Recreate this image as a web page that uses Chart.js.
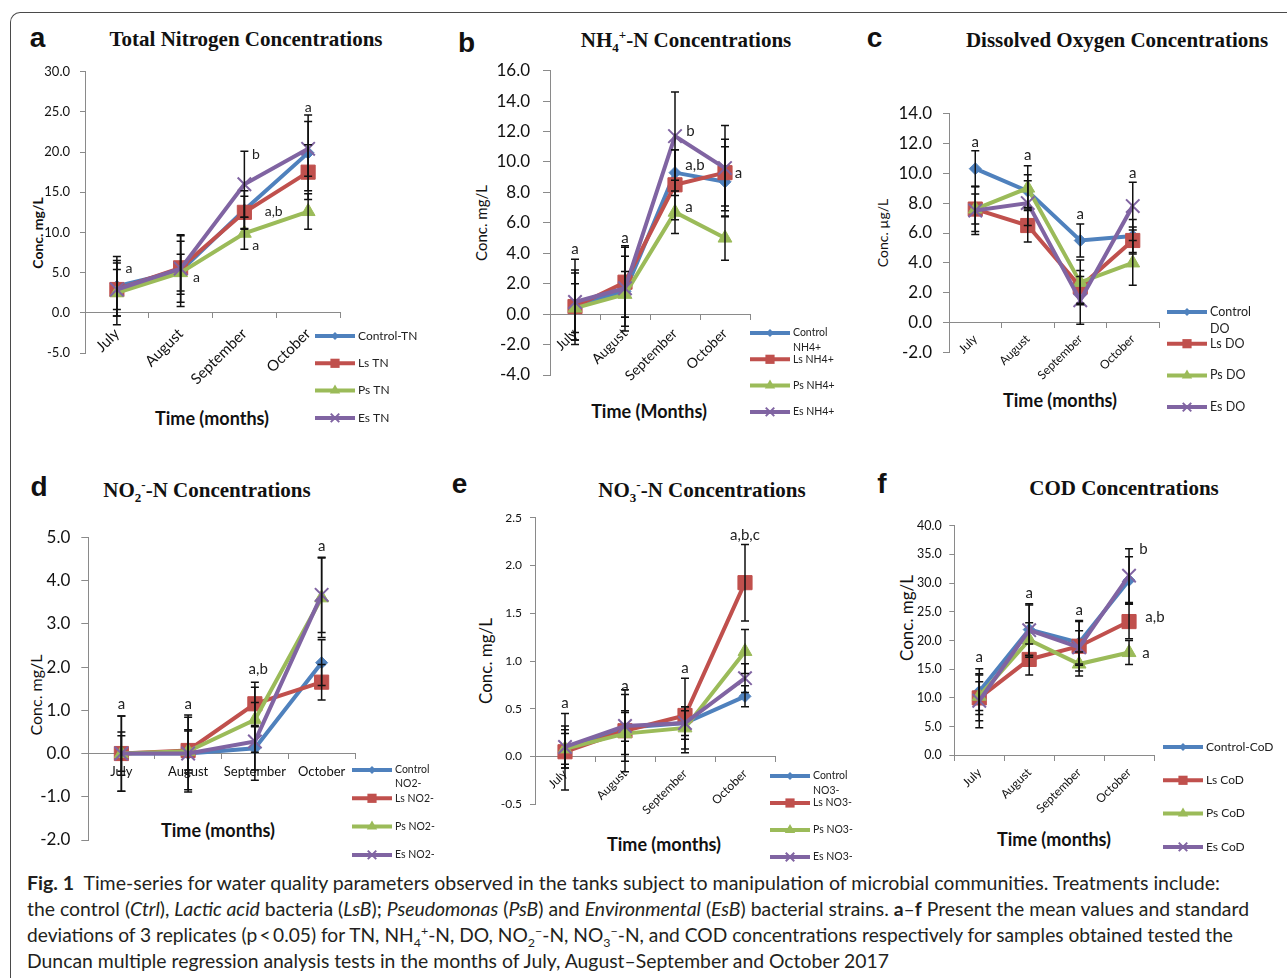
<!DOCTYPE html>
<html>
<head>
<meta charset="utf-8">
<title>Fig. 1 water quality time-series</title>
<script src="https://cdn.jsdelivr.net/npm/chart.js@4.4.1/dist/chart.umd.min.js"></script>
<style>
  html, body { margin: 0; padding: 0; background: #fff; }
  #fig { position: relative; width: 1287px; height: 978px; overflow: hidden; font-family: Lato, sans-serif; color: #111; }
  #frame { position: absolute; left: 10px; top: 12px; width: 1300px; height: 1000px; border-left: 1px solid #4a4a4a; border-top: 1px solid #4a4a4a; border-top-left-radius: 10px; }
  canvas { position: absolute; }
  .t { position: absolute; transform: translate(-50%, -50%); white-space: nowrap; line-height: 1; }
  .ttl { font: bold 21px "Liberation Serif", "Times New Roman", serif; }
  .ttl sub, .ttl sup { font-size: 0.62em; line-height: 0; }
  .tag { font: bold 28px "Liberation Sans", Arial, sans-serif; }
  .xt { font: bold 18px Lato, sans-serif; }
  .yt { font-family: Lato, sans-serif; transform: translate(-50%, -50%) rotate(-90deg); }
  .cap { position: absolute; left: 27px; white-space: nowrap; line-height: 1; font-size: 18.5px; color: #231f20; transform-origin: 0 50%; }
  .cap sub, .cap sup { font-size: 0.65em; line-height: 0; }
</style>
</head>
<body>
<div id="fig">
  <div id="frame"></div>

  <div class="t tag" style="left:37.5px;top:38px">a</div>
  <div class="t ttl" style="left:246px;top:39px">Total Nitrogen Concentrations</div>
  <div class="t xt" style="left:212px;top:418px">Time (months)</div>
  <div class="t yt" style="left:37.5px;top:233px;font-size:14px;font-weight:bold">Conc. mg/L</div>

  <div class="t tag" style="left:466.5px;top:42.5px">b</div>
  <div class="t ttl" style="left:686px;top:40px">NH<sub>4</sub><sup>+</sup>-N Concentrations</div>
  <div class="t xt" style="left:649px;top:411px">Time (Months)</div>
  <div class="t yt" style="left:481px;top:222.5px;font-size:15px">Conc. mg/L</div>

  <div class="t tag" style="left:874.5px;top:38px">c</div>
  <div class="t ttl" style="left:1117px;top:40px">Dissolved Oxygen Concentrations</div>
  <div class="t xt" style="left:1060px;top:400px">Time (months)</div>
  <div class="t yt" style="left:882.5px;top:233px;font-size:14px">Conc. µg/L</div>

  <div class="t tag" style="left:39px;top:487px">d</div>
  <div class="t ttl" style="left:207px;top:490px">NO<sub>2</sub><sup>-</sup>-N Concentrations</div>
  <div class="t xt" style="left:218px;top:830px">Time (months)</div>
  <div class="t yt" style="left:35.5px;top:695px;font-size:16px">Conc. mg/L</div>

  <div class="t tag" style="left:459.5px;top:484px">e</div>
  <div class="t ttl" style="left:702px;top:490px">NO<sub>3</sub><sup>-</sup>-N Concentrations</div>
  <div class="t xt" style="left:664px;top:844px">Time (months)</div>
  <div class="t yt" style="left:485px;top:661px;font-size:17px">Conc. mg/L</div>

  <div class="t tag" style="left:882px;top:484px">f</div>
  <div class="t ttl" style="left:1124px;top:488px">COD Concentrations</div>
  <div class="t xt" style="left:1054px;top:839px">Time (months)</div>
  <div class="t yt" style="left:905.5px;top:617.5px;font-size:17px">Conc. mg/L</div>

  <div class="cap" data-w="1193" style="top:873.5px"><b>Fig. 1</b>&nbsp; Time-series for water quality parameters observed in the tanks subject to manipulation of microbial communities. Treatments include:</div>
  <div class="cap" data-w="1222" style="top:899.5px">the control (<i>Ctrl</i>), <i>Lactic acid</i> bacteria (<i>LsB</i>); <i>Pseudomonas</i> (<i>PsB</i>) and <i>Environmental</i> (<i>EsB</i>) bacterial strains. <b>a</b>–<b>f</b> Present the mean values and standard</div>
  <div class="cap" data-w="1206" style="top:925.5px">deviations of 3 replicates (p&thinsp;&lt;&thinsp;0.05) for TN, NH<sub>4</sub><sup>+</sup>-N, DO, NO<sub>2</sub><sup>−</sup>-N, NO<sub>3</sub><sup>−</sup>-N, and COD concentrations respectively for samples obtained tested the</div>
  <div class="cap" data-w="862" style="top:951.5px">Duncan multiple regression analysis tests in the months of July, August–September and October 2017</div>
</div>

<script>
const months = ["July", "August", "September", "October"];

// a: total nitrogen (mg/L)
const tnCtrl = [3.3, 5.2, 12.8, 19.9];
const tnLs = [2.9, 5.6, 12.5, 17.5];
const tnPs = [2.5, 5.0, 9.9, 12.6];
const tnEs = [2.9, 5.5, 16.0, 20.4];
const tnCtrlSd = [3.7, 4.4, 2.4, 4.7];
const tnLsSd = [3.3, 3.3, 2.0, 3.4];
const tnPsSd = [4.0, 2.3, 2.0, 2.2];
const tnEsSd = [2.5, 4.2, 4.1, 3.4];
const tnNames = ["Control-TN", "Ls TN", "Ps TN", "Es TN"];
const tnAxis = [-5, 30, 5];
const tnMarks = [[0.19, 5.5, "a"], [1.25, 4.35, "a"], [2.18, 19.7, "b"], [2.46, 12.6, "a,b"], [2.18, 8.4, "a"], [3.0, 25.6, "a"]];

// b: NH4+-N (mg/L)
const nhCtrl = [0.6, 1.5, 9.3, 8.7];
const nhLs = [0.5, 2.1, 8.5, 9.3];
const nhPs = [0.4, 1.3, 6.7, 5.0];
const nhEs = [0.8, 1.7, 11.7, 9.6];
const nhCtrlSd = [2.3, 2.3, 1.5, 2.3];
const nhLsSd = [2.2, 2.3, 2.3, 2.2];
const nhPsSd = [1.6, 1.5, 1.4, 1.45];
const nhEsSd = [2.8, 2.8, 2.9, 2.8];
const nhNames = ["Control NH4+", "Ls NH4+", "Ps NH4+", "Es NH4+"];
const nhAxis = [-4, 16, 2];
const nhMarks = [[0, 4.25, "a"], [1, 5.0, "a"], [2.31, 12.0, "b"], [2.4, 9.8, "a,b"], [2.28, 7.0, "a"], [3.27, 9.25, "a"]];

// c: dissolved oxygen (ug/L)
const doCtrl = [10.3, 8.8, 5.5, 5.8];
const doLs = [7.6, 6.5, 2.4, 5.5];
const doPs = [7.6, 9.0, 2.7, 4.0];
const doEs = [7.5, 8.0, 1.5, 7.8];
const doCtrlSd = [1.2, 1.1, 1.1, 1.1];
const doLsSd = [1.5, 1.1, 1.1, 0.9];
const doPsSd = [1.0, 1.5, 1.5, 1.5];
const doEsSd = [1.6, 1.5, 1.6, 1.6];
const doNames = ["Control DO", "Ls DO", "Ps DO", "Es DO"];
const doAxis = [-2, 14, 2];
const doMarks = [[0, 12.1, "a"], [1, 11.2, "a"], [2, 7.26, "a"], [3, 10.0, "a"]];

// d: NO2--N (mg/L)
const no2Ctrl = [0.0, 0.0, 0.12, 2.1];
const no2Ls = [0.0, 0.07, 1.15, 1.65];
const no2Ps = [0.0, 0.05, 0.78, 3.6];
const no2Es = [0.0, 0.0, 0.28, 3.67];
const no2CtrlSd = [0.87, 0.89, 0.5, 0.53];
const no2LsSd = [0.5, 0.45, 0.5, 0.41];
const no2PsSd = [0.41, 0.5, 0.75, 0.92];
const no2EsSd = [0.87, 0.84, 0.9, 0.87];
const no2Names = ["Control NO2-", "Ls NO2-", "Ps NO2-", "Es NO2-"];
const no2Axis = [-2, 5, 1];
const no2Marks = [[0, 1.13, "a"], [1, 1.13, "a"], [2.05, 1.95, "a,b"], [3, 4.79, "a"]];

// e: NO3--N (mg/L)
const no3Ctrl = [0.08, 0.3, 0.35, 0.63];
const no3Ls = [0.05, 0.27, 0.43, 1.82];
const no3Ps = [0.08, 0.24, 0.3, 1.1];
const no3Es = [0.1, 0.32, 0.35, 0.82];
const no3CtrlSd = [0.2, 0.35, 0.17, 0.11];
const no3LsSd = [0.4, 0.43, 0.39, 0.4];
const no3PsSd = [0.16, 0.22, 0.22, 0.23];
const no3EsSd = [0.22, 0.16, 0.13, 0.15];
const no3Names = ["Control NO3-", "Ls NO3-", "Ps NO3-", "Es NO3-"];
const no3Axis = [-0.5, 2.5, 0.5];
const no3Marks = [[0, 0.56, "a"], [1, 0.74, "a"], [2, 0.92, "a"], [3, 2.32, "a,b,c"]];

// f: COD (mg/L)
const codCtrl = [11.1, 21.9, 19.6, 30.5];
const codLs = [10.0, 16.7, 19.0, 23.3];
const codPs = [10.3, 20.1, 15.9, 17.9];
const codEs = [9.5, 21.8, 18.8, 31.3];
const codCtrlSd = [4.0, 4.5, 3.9, 4.1];
const codLsSd = [4.0, 2.7, 4.3, 3.0];
const codPsSd = [2.5, 3.0, 2.1, 2.1];
const codEsSd = [4.7, 4.4, 2.9, 4.7];
const codNames = ["Control-CoD", "Ls CoD", "Ps CoD", "Es CoD"];
const codAxis = [0, 40, 5];
const codMarks = [[0, 17.1, "a"], [1, 28.3, "a"], [2, 25.2, "a"], [3.29, 35.9, "b"], [3.52, 24.0, "a,b"], [3.34, 17.8, "a"]];

const colors = ["#4F81BD", "#C0504D", "#9BBB59", "#8064A2"];
const shapes = ["rectRot", "rect", "triangle", "crossRot"];
const sizes = [6, 10, 8, 9.5];
const keySizes = [4, 6.5, 6, 6];
const axisGray = "#8a8a8a";

function marker(ctx, style, x, y, r) {
  ctx.beginPath();
  if (style === "rectRot") {
    ctx.moveTo(x - r, y); ctx.lineTo(x, y - r); ctx.lineTo(x + r, y); ctx.lineTo(x, y + r);
    ctx.closePath(); ctx.fill();
  } else if (style === "rect") {
    const s = r * Math.SQRT1_2;
    ctx.rect(x - s, y - s, 2 * s, 2 * s); ctx.fill();
  } else if (style === "triangle") {
    ctx.moveTo(x, y - r); ctx.lineTo(x + 0.866 * r, y + 0.5 * r); ctx.lineTo(x - 0.866 * r, y + 0.5 * r);
    ctx.closePath(); ctx.fill();
  } else {
    const s = r * Math.SQRT1_2;
    ctx.moveTo(x - s, y - s); ctx.lineTo(x + s, y + s);
    ctx.moveTo(x + s, y - s); ctx.lineTo(x - s, y + s);
    ctx.stroke();
  }
}

const errorBars = {
  id: "errorBars",
  afterDatasetsDraw(chart) {
    const ctx = chart.ctx;
    const ys = chart.scales.y;
    ctx.save();
    ctx.strokeStyle = "#111";
    ctx.lineWidth = 1.5;
    chart.data.datasets.forEach((ds, i) => {
      chart.getDatasetMeta(i).data.forEach((pt, j) => {
        const hi = ys.getPixelForValue(ds.data[j] + ds.sd[j]);
        const lo = ys.getPixelForValue(ds.data[j] - ds.sd[j]);
        ctx.beginPath();
        ctx.moveTo(pt.x, hi); ctx.lineTo(pt.x, lo);
        ctx.moveTo(pt.x - 4, hi); ctx.lineTo(pt.x + 4, hi);
        ctx.moveTo(pt.x - 4, lo); ctx.lineTo(pt.x + 4, lo);
        ctx.stroke();
      });
    });
    ctx.restore();
  }
};

const letters = {
  id: "letters",
  afterDraw(chart, args, opts) {
    const ctx = chart.ctx;
    ctx.save();
    ctx.font = opts.size + "px Lato";
    ctx.fillStyle = "#222";
    ctx.textAlign = "center";
    ctx.textBaseline = "middle";
    for (const m of opts.items) {
      ctx.fillText(m[2], chart.scales.x.getPixelForValue(m[0]), chart.scales.y.getPixelForValue(m[1]));
    }
    ctx.restore();
  }
};

const sideLegend = {
  id: "sideLegend",
  afterDraw(chart, args, o) {
    const ctx = chart.ctx;
    ctx.save();
    ctx.font = o.size + "px Lato";
    ctx.textBaseline = "middle";
    chart.data.datasets.forEach((ds, i) => {
      const x = o.x, y = o.y + i * o.gap;
      ctx.strokeStyle = ds.borderColor;
      ctx.lineWidth = 4;
      ctx.beginPath(); ctx.moveTo(x, y); ctx.lineTo(x + 40, y); ctx.stroke();
      ctx.fillStyle = ds.borderColor;
      ctx.lineWidth = 2;
      marker(ctx, ds.pointStyle, x + 20, y, keySizes[i]);
      ctx.fillStyle = "#222";
      let lines = [ds.label];
      if (ctx.measureText(ds.label).width > 50 && ds.label.includes(" ")) {
        const k = ds.label.indexOf(" ");
        lines = [ds.label.slice(0, k), ds.label.slice(k + 1)];
      }
      lines.forEach((s, n) => ctx.fillText(s, x + 43, y + n * o.lh));
    });
    ctx.restore();
  }
};

function build(p) {
  const [bx, by, bw, bh] = p.box;
  const [L, T, R, B] = p.area;
  const yW = L - bx - 4;
  const cv = document.createElement("canvas");
  cv.width = bw;
  cv.height = bh;
  cv.style.left = bx + "px";
  cv.style.top = by + "px";
  document.getElementById("fig").appendChild(cv);

  const datasets = p.series.map((s, k) => ({
    label: p.names[k],
    data: s,
    sd: p.sd[k],
    borderColor: colors[k],
    backgroundColor: colors[k],
    pointBackgroundColor: colors[k],
    pointBorderColor: colors[k],
    pointStyle: shapes[k],
    pointRadius: sizes[k],
    pointBorderWidth: k === 3 ? 2 : 1,
    borderWidth: 4,
    tension: 0,
    clip: false,
    order: 3 - k
  }));

  new Chart(cv, {
    type: "line",
    data: { labels: months, datasets },
    options: {
      responsive: false,
      animation: false,
      devicePixelRatio: 1,
      events: [],
      layout: { padding: { left: 4, top: T - by, right: bx + bw - R, bottom: by + bh - B } },
      plugins: {
        legend: { display: false },
        tooltip: { enabled: false },
        letters: { items: p.marks, size: p.markSize },
        sideLegend: { x: p.key[0] - bx, y: p.key[1] - by, gap: p.key[2], size: p.key[3], lh: p.key[4] }
      },
      scales: {
        x: {
          type: "category",
          position: { y: 0 },
          offset: true,
          grid: { offset: true, drawOnChartArea: false, tickLength: 5, color: axisGray },
          border: { color: axisGray },
          ticks: { autoSkip: false, minRotation: p.rot, maxRotation: p.rot, padding: p.xPad, color: "#111", font: { family: "Lato", size: p.xFont } },
          afterFit: s => { s.height = 0; s.paddingLeft = 0; s.paddingRight = 0; }
        },
        y: {
          min: p.axis[0],
          max: p.axis[1],
          grid: { drawOnChartArea: false, tickLength: p.yTick, color: axisGray },
          border: { color: axisGray },
          ticks: { stepSize: p.axis[2], padding: p.yPad, color: "#111", font: { family: "Lato", size: p.yFont }, callback: v => v.toFixed(1) },
          afterFit: s => { s.width = yW; s.paddingTop = 0; s.paddingBottom = 0; }
        }
      }
    },
    plugins: [errorBars, letters, sideLegend]
  });
}

const panels = [
  { box: [20, 55, 420, 385], area: [85, 71.7, 340, 353], axis: tnAxis, names: tnNames, marks: tnMarks,
    series: [tnCtrl, tnLs, tnPs, tnEs], sd: [tnCtrlSd, tnLsSd, tnPsSd, tnEsSd],
    rot: 45, xFont: 15, xPad: 7, yFont: 13, yTick: 5, yPad: 10, markSize: 14, key: [315, 336, 27.3, 12, 15] },
  { box: [440, 55, 420, 385], area: [550, 70.7, 750, 375], axis: nhAxis, names: nhNames, marks: nhMarks,
    series: [nhCtrl, nhLs, nhPs, nhEs], sd: [nhCtrlSd, nhLsSd, nhPsSd, nhEsSd],
    rot: 45, xFont: 14, xPad: 6, yFont: 17, yTick: 7, yPad: 13, markSize: 15, key: [750, 333, 26.3, 10.5, 15] },
  { box: [860, 55, 427, 385], area: [949, 113.3, 1159, 352.7], axis: doAxis, names: doNames, marks: doMarks,
    series: [doCtrl, doLs, doPs, doEs], sd: [doCtrlSd, doLsSd, doPsSd, doEsSd],
    rot: 45, xFont: 12, xPad: 4, yFont: 17, yTick: 6, yPad: 11, markSize: 15, key: [1167, 312, 31.7, 12.5, 17] },
  { box: [20, 505, 420, 365], area: [88, 537.3, 355, 840], axis: no2Axis, names: no2Names, marks: no2Marks,
    series: [no2Ctrl, no2Ls, no2Ps, no2Es], sd: [no2CtrlSd, no2LsSd, no2PsSd, no2EsSd],
    rot: 0, xFont: 13, xPad: 5, yFont: 17, yTick: 6.7, yPad: 11, markSize: 15, key: [352, 770, 28.3, 10.5, 14] },
  { box: [440, 505, 420, 365], area: [535, 517.7, 775, 804.3], axis: no3Axis, names: no3Names, marks: no3Marks,
    series: [no3Ctrl, no3Ls, no3Ps, no3Es], sd: [no3CtrlSd, no3LsSd, no3PsSd, no3EsSd],
    rot: 45, xFont: 12, xPad: 5, yFont: 12, yTick: 5, yPad: 8, markSize: 15, key: [770, 776, 27, 10.5, 15] },
  { box: [860, 505, 427, 365], area: [954.3, 525.7, 1154, 755.3], axis: codAxis, names: codNames, marks: codMarks,
    series: [codCtrl, codLs, codPs, codEs], sd: [codCtrlSd, codLsSd, codPsSd, codEsSd],
    rot: 45, xFont: 12, xPad: 5, yFont: 12.5, yTick: 5, yPad: 7.5, markSize: 15, key: [1163, 747, 33.3, 12, 15] }
];

panels.forEach(build);

// squeeze caption lines to the widths they take in the figure
document.querySelectorAll(".cap").forEach(el => {
  const w = el.getBoundingClientRect().width;
  el.style.transform = "scaleX(" + (el.dataset.w / w) + ")";
});
</script>
</body>
</html>
